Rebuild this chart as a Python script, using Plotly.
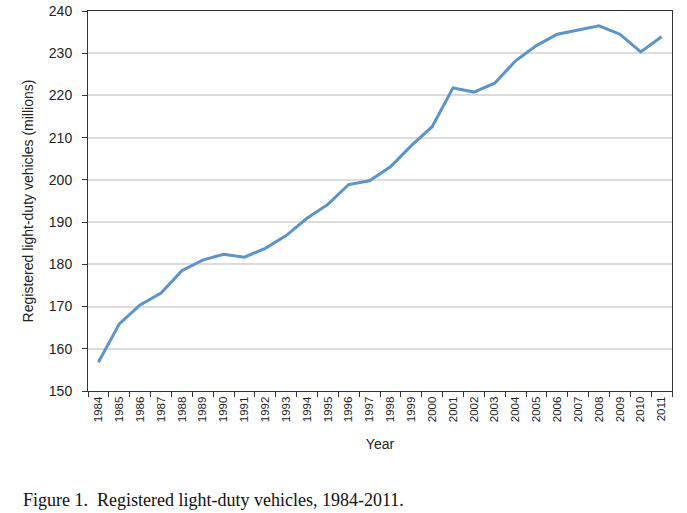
import plotly.graph_objects as go

years = [str(y) for y in range(1984, 2012)]
vehicles = [156.8, 165.9, 170.4, 173.2, 178.5, 181.0, 182.4, 181.7, 183.8, 186.8,
            190.9, 194.2, 198.9, 199.8, 203.1, 208.1, 212.6, 221.8, 220.8, 222.9,
            228.2, 231.8, 234.5, 235.5, 236.5, 234.5, 230.3, 233.9]
y_ticks = [150, 160, 170, 180, 190, 200, 210, 220, 230, 240]

fig = go.Figure()
fig.add_trace(go.Scatter(x=years, y=vehicles, mode="lines",
                         line=dict(color="#5b95c8", width=3)))

fig.update_layout(
    width=687, height=513,
    margin=dict(l=88, r=15, t=11, b=122),
    paper_bgcolor="white", plot_bgcolor="white",
    showlegend=False,
    font=dict(family="Liberation Sans, Arial, sans-serif", color="#222"),
    xaxis=dict(type="category", range=[-0.5, len(years) - 0.5], automargin=False,
               tickson="boundaries", ticks="outside", ticklen=5,
               tickcolor="#333", showgrid=False, showline=True, linecolor="#333",
               linewidth=1, mirror=True, tickangle=-90,
               tickfont=dict(size=11.5, color="#222"),
               title=dict(text="Year", font=dict(size=14, color="#222"), standoff=18)),
    yaxis=dict(range=[150, 240], tickvals=y_ticks, ticks="outside", ticklen=5,
               automargin=False, ticklabelstandoff=7,
               tickcolor="#333", showgrid=True, gridcolor="#dcdcdc", gridwidth=1.5,
               showline=True, linecolor="#333", linewidth=1, mirror=True,
               tickfont=dict(size=14, color="#222"),
               title=dict(text="Registered light-duty vehicles (millions)",
                          font=dict(size=14, color="#222"), standoff=11)),
)

fig.add_annotation(text="Figure 1.  Registered light-duty vehicles, 1984-2011.",
                   xref="paper", yref="paper", x=-0.1147, y=-0.287,
                   xanchor="left", yanchor="middle", showarrow=False,
                   font=dict(family="Liberation Serif, Times New Roman, serif",
                             size=18, color="#111"))

fig.write_html("out.html", config={"displayModeBar": False},
               post_script="document.body.style.margin='0';document.body.style.overflow='hidden';")
